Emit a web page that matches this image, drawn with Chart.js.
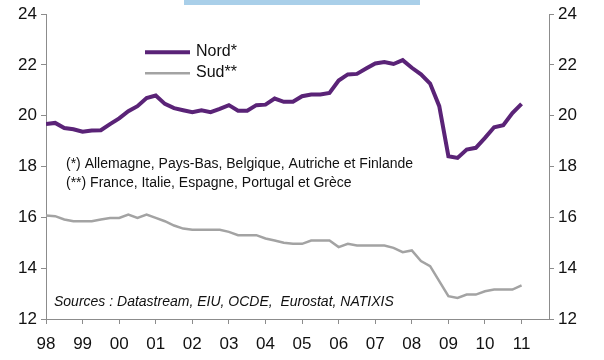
<!DOCTYPE html>
<html>
<head>
<meta charset="utf-8">
<title>Nord / Sud</title>
<script src="https://cdn.jsdelivr.net/npm/chart.js@4.4.1/dist/chart.umd.min.js"></script>
<style>
    body { margin: 0; background: #fff; }
    #wrap { width: 604px; height: 360px; }
</style>
</head>
<body>
<div id="wrap"><canvas id="chart" width="604" height="360"></canvas></div>
<script>
// Quarterly data, 1998Q1 .. 2011Q1

const xTickLabels = ['98', '99', '00', '01', '02', '03', '04', '05', '06', '07', '08', '09', '10', '11'];

const nordValues = [
    19.68, 19.72, 19.52, 19.47, 19.37, 19.42, 19.43, 19.67,
    19.90, 20.18, 20.38, 20.70, 20.80, 20.47, 20.30, 20.22,
    20.14, 20.22, 20.14, 20.27, 20.42, 20.20, 20.20, 20.42,
    20.44, 20.68, 20.55, 20.55, 20.77, 20.84, 20.84, 20.90,
    21.39, 21.63, 21.65, 21.86, 22.06, 22.12, 22.04, 22.19,
    21.89, 21.63, 21.27, 20.38, 18.41, 18.34, 18.67, 18.74,
    19.13, 19.55, 19.63, 20.11, 20.47
];

const sudValues = [
    16.07, 16.05, 15.92, 15.85, 15.85, 15.85, 15.92, 15.98,
    15.98, 16.11, 15.98, 16.11, 15.98, 15.85, 15.68, 15.56,
    15.51, 15.51, 15.51, 15.51, 15.43, 15.30, 15.30, 15.30,
    15.17, 15.09, 15.00, 14.96, 14.96, 15.09, 15.09, 15.09,
    14.83, 14.96, 14.89, 14.89, 14.89, 14.89, 14.80, 14.63,
    14.70, 14.28, 14.08, 13.49, 12.90, 12.83, 12.96, 12.96,
    13.09, 13.16, 13.16, 13.16, 13.32
];

const seriesNames = ['Nord*', 'Sud**'];
const notes = [
    '(*) Allemagne, Pays-Bas, Belgique, Autriche et Finlande',
    '(**) France, Italie, Espagne, Portugal et Grèce'
];
const sourceText = 'Sources : Datastream, EIU, OCDE,  Eurostat, NATIXIS';

const purple = '#5a2377';
const grey = '#a3a3a3';
const axisGrey = '#8c8c8c';
const font = "'Liberation Sans', Arial, sans-serif";

const toPoints = vals => vals.map((v, i) => ({ x: i, y: v }));

// legend, notes and the blue strip at the top
const extras = {
    id: 'extras',
    afterDraw(chart) {
        const c = chart.ctx;
        const area = chart.chartArea;
        c.save();

        c.fillStyle = '#a9cfe9';
        c.fillRect(184, 0, 236, 5);

        const lx = area.left + 99;
        const legend = [
            { y: area.top + 38, color: purple, w: 4 },
            { y: area.top + 59, color: grey, w: 2.5 }
        ];
        c.textBaseline = 'middle';
        c.font = '16px ' + font;
        legend.forEach((l, i) => {
            c.strokeStyle = l.color;
            c.lineWidth = l.w;
            c.beginPath();
            c.moveTo(lx, l.y);
            c.lineTo(lx + 45, l.y);
            c.stroke();
            c.fillStyle = '#111';
            c.fillText(chart.data.datasets[i].label, lx + 51, l.y - 1);
        });

        c.font = '14px ' + font;
        c.fillStyle = '#111';
        c.fillText(notes[0], area.left + 20, area.top + 150);
        c.fillText(notes[1], area.left + 20, area.top + 169);

        c.font = 'italic 14px ' + font;
        c.fillText(sourceText, area.left + 8, area.top + 288);
        c.restore();
    }
};

const ctx = document.getElementById('chart').getContext('2d');
const chart = new Chart(ctx, {
    type: 'line',
    data: {
        datasets: [{
            label: seriesNames[0],
            data: toPoints(nordValues),
            borderColor: purple,
            borderWidth: 4,
            pointRadius: 0,
            tension: 0
        }, {
            label: seriesNames[1],
            data: toPoints(sudValues),
            borderColor: grey,
            borderWidth: 2.5,
            pointRadius: 0,
            tension: 0
        }]
    },
    options: {
        responsive: false,
        animation: false,
        layout: { padding: { top: 12, left: 0, right: 0, bottom: 0 } },
        plugins: {
            legend: { display: false },
            tooltip: { enabled: false }
        },
        scales: {
            x: {
                type: 'linear',
                min: 0,
                max: 55,
                afterBuildTicks: axis => {
                    axis.ticks = xTickLabels.map((_, i) => ({ value: i * 4 }));
                },
                afterFit: scale => { scale.height = 41; },
                ticks: {
                    callback: v => xTickLabels[v / 4],
                    color: '#111',
                    font: { family: font, size: 17 },
                    padding: 10,
                    maxRotation: 0,
                    autoSkip: false
                },
                grid: { drawOnChartArea: false, tickLength: 5, color: axisGrey },
                border: { color: axisGrey }
            },
            y: {
                position: 'left',
                min: 12,
                max: 24,
                afterFit: scale => { scale.width = 46; },
                ticks: {
                    stepSize: 2,
                    color: '#111',
                    font: { family: font, size: 17 },
                    padding: 4
                },
                grid: { drawOnChartArea: false, tickLength: 5, color: axisGrey },
                border: { color: axisGrey }
            },
            y2: {
                position: 'right',
                min: 12,
                max: 24,
                afterFit: scale => { scale.width = 55; },
                ticks: {
                    stepSize: 2,
                    color: '#111',
                    font: { family: font, size: 17 },
                    padding: 4
                },
                grid: { drawOnChartArea: false, tickLength: 5, color: axisGrey },
                border: { color: axisGrey }
            }
        }
    },
    plugins: [extras]
});
</script>
</body>
</html>
